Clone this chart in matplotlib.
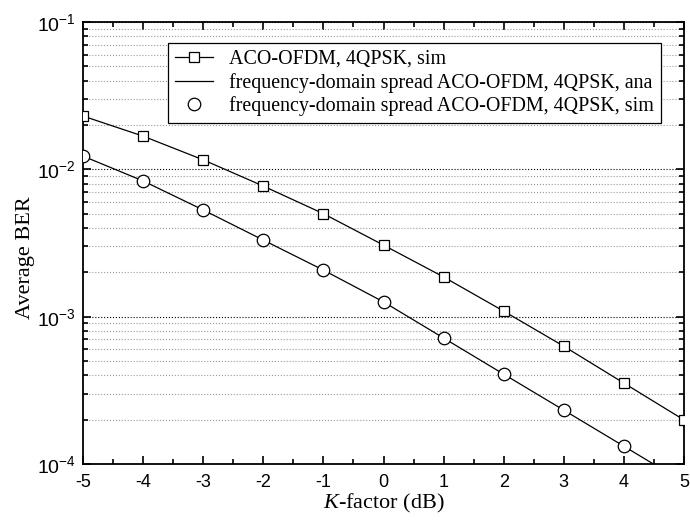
import matplotlib.pyplot as plt
import numpy as np
from matplotlib.ticker import LogLocator, MultipleLocator, NullFormatter, FuncFormatter

k_db = [-5, -4, -3, -2, -1, 0, 1, 2, 3, 4, 5]
ber_aco_sim = [0.023, 0.0168, 0.0116, 0.0077, 0.0050, 0.00306, 0.00186, 0.00109, 0.00063, 0.000354, 0.000199]

k_ana = [-5, -4, -3, -2, -1, 0, 1, 2, 3, 4, 5]
ber_fds_ana = [0.0123, 0.00834, 0.0053, 0.00331, 0.00207, 0.00126, 0.000716, 0.000407, 0.000232, 0.000132, 0.000075]

k_sim = [-5, -4, -3, -2, -1, 0, 1, 2, 3, 4]
ber_fds_sim = [0.0123, 0.00834, 0.0053, 0.00331, 0.00207, 0.00126, 0.000716, 0.000407, 0.000232, 0.000132]

serif = "Liberation Serif"
sans = "Liberation Sans"
plt.rcParams["axes.unicode_minus"] = False
plt.rcParams["mathtext.fontset"] = "custom"
plt.rcParams["mathtext.rm"] = serif
plt.rcParams["mathtext.it"] = serif + ":italic"
plt.rcParams["mathtext.sf"] = sans

fig = plt.figure(figsize=(6.9, 5.21), dpi=100)
ax = fig.add_axes([83 / 690, 1 - 464 / 521, 601 / 690, 442 / 521])

ax.plot(k_db, ber_aco_sim, color="black", lw=0.9, marker="s", ms=7.5,
        mfc="white", mec="black", mew=0.9, label="ACO-OFDM, 4QPSK, sim", zorder=3)
ax.plot(k_ana, ber_fds_ana, color="black", lw=0.9,
        label="frequency-domain spread ACO-OFDM, 4QPSK, ana", zorder=3)
ax.plot(k_sim, ber_fds_sim, ls="none", marker="o", ms=9,
        mfc="white", mec="black", mew=0.9,
        label="frequency-domain spread ACO-OFDM, 4QPSK, sim", zorder=4)

ax.set_yscale("log")
ax.set_xlim(-5, 5)
ax.set_ylim(1e-4, 1e-1)
ax.xaxis.set_major_locator(MultipleLocator(1))
ax.xaxis.set_minor_locator(MultipleLocator(0.5))
ax.yaxis.set_major_locator(LogLocator(base=10, numticks=10))
ax.yaxis.set_minor_locator(LogLocator(base=10, subs=np.arange(2, 10), numticks=10))
ax.yaxis.set_minor_formatter(NullFormatter())
ax.yaxis.set_major_formatter(FuncFormatter(
    lambda v, p: "$\\mathsf{10^{%d}}$" % round(np.log10(v))))

# horizontal dotted grid only
ax.grid(True, axis="y", which="major", ls=":", color="black", lw=0.8)
ax.grid(True, axis="y", which="minor", ls=":", color="#999999", lw=0.8)

ax.tick_params(which="both", direction="in", top=True, right=True, width=1.2)
ax.tick_params(which="major", length=6, labelsize=13, pad=7)
ax.tick_params(which="minor", length=3.5)
ax.tick_params(axis="y", which="major", labelsize=14, pad=5)
for lab in ax.get_xticklabels() + ax.get_yticklabels():
    lab.set_family(sans)
for s in ax.spines.values():
    s.set_linewidth(1.3)

ax.set_xlabel("$\\mathit{K}$-factor (dB)", fontsize=16, family=serif, labelpad=1)
ax.set_ylabel("Average BER", fontsize=16, family=serif)
ax.yaxis.set_label_coords(-0.080, 0.468)

leg = ax.legend(loc="upper right", bbox_to_anchor=(0.978, 0.976), fancybox=False,
                edgecolor="black", framealpha=1, prop={"family": serif, "size": 14.4},
                handlelength=1.9, labelspacing=0.2, borderpad=0.35)
leg.get_frame().set_linewidth(0.9)

fig.savefig("out.png", dpi=100)
